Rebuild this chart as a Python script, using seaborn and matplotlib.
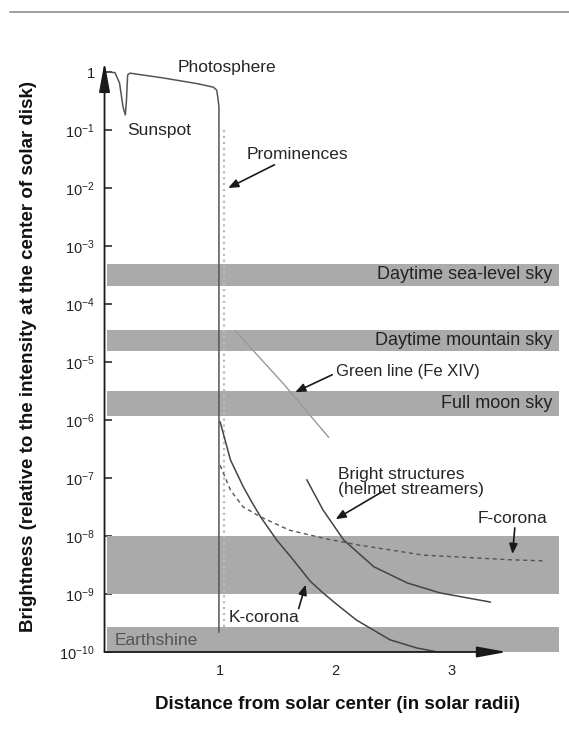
"""
brightness of the solar corona vs. distance from sun center
"""
import matplotlib
matplotlib.use('Agg')
import matplotlib.pyplot as plt
import seaborn as sns
from matplotlib.lines import Line2D

# all brightness values are log10 of the ratio to disk center intensity
photo_x = [0.02, 0.09, 0.13, 0.16, 0.18, 0.19, 0.2, 0.22, 0.5, 0.8, 0.94, 0.97, 0.98, 0.99, 0.99]
photo_log = [0.0, -0.01, -0.19, -0.6, -0.74, -0.48, -0.05, -0.02, -0.1, -0.2, -0.26, -0.31, -0.43, -0.6, -9.66]

prom_x = [1.03, 1.03]
prom_log = [-1.0, -9.6]

green_x = [1.13, 1.55, 1.94]
green_log = [-4.46, -5.38, -6.3]

k_x = [1.0, 1.09, 1.2, 1.27, 1.35, 1.49, 1.62, 1.78, 1.89, 2.01, 2.18, 2.47, 2.7, 2.88]
k_log = [-6.03, -6.69, -7.15, -7.4, -7.67, -8.07, -8.38, -8.78, -8.98, -9.18, -9.45, -9.79, -9.93, -10.0]

f_x = [1.0, 1.09, 1.2, 1.35, 1.6, 1.92, 2.18, 2.76, 3.51, 3.82]
f_log = [-6.78, -7.21, -7.5, -7.67, -7.9, -8.05, -8.15, -8.33, -8.41, -8.43]

helmet_x = [1.75, 1.89, 2.07, 2.33, 2.62, 2.9, 3.34]
helmet_log = [-7.03, -7.55, -8.07, -8.53, -8.81, -8.98, -9.14]

band_names = ['Daytime sea-level sky', 'Daytime mountain sky', 'Full moon sky', '', 'Earthshine']
band_low = [-3.69, -4.81, -5.93, -9.0, -10.0]
band_high = [-3.31, -4.45, -5.5, -8.0, -9.57]

ytick_exp = list(range(0, -11, -1))
ytick_labels = ['1'] + [f'10$^{{{e}}}$' for e in ytick_exp[1:]]
xtick_vals = [1, 2, 3]


def p(v):
    return [10.0 ** e for e in v]


sns.set_theme(style='white')
plt.rcParams['font.family'] = ['Liberation Sans', 'DejaVu Sans']
plt.rcParams['mathtext.fontset'] = 'custom'
plt.rcParams['mathtext.rm'] = 'Liberation Sans'
plt.rcParams['mathtext.it'] = 'Liberation Sans:italic'
plt.rcParams['mathtext.bf'] = 'Liberation Sans:bold'

fig = plt.figure(figsize=(5.69, 7.43), dpi=100)
ax = fig.add_axes([0.1837, 0.1225, 0.8023, 0.7962])
ax.set_yscale('log')
ax.set_xlim(0, 3.95)
ax.set_ylim(1e-10, 10 ** 0.2)
for s in ax.spines.values():
    s.set_visible(False)

# sky brightness bands
for name, lo, hi in zip(band_names, band_low, band_high):
    ax.fill_between([0.02, 3.93], 10 ** lo, 10 ** hi, color='#aaaaaa', lw=0, zorder=1)
    if name and name != 'Earthshine':
        ax.text(3.875, 10 ** ((lo + hi) / 2), name, ha='right', va='center',
                fontsize=13, color='#222222', zorder=3)
ax.text(0.09, 10 ** -9.8, 'Earthshine', ha='left', va='center', fontsize=12.5, color='#555555', zorder=3)

kw = dict(ax=ax, sort=False, estimator=None, legend=False)
sns.lineplot(x=photo_x, y=p(photo_log), color='#555555', lw=1.1, **kw)
sns.lineplot(x=prom_x, y=p(prom_log), color='#bbbbbb', lw=1.6, linestyle=':', **kw)
sns.lineplot(x=green_x, y=p(green_log), color='#999999', lw=1.0, **kw)
sns.lineplot(x=k_x, y=p(k_log), color='#444444', lw=1.1, **kw)
sns.lineplot(x=f_x, y=p(f_log), color='#555555', lw=1.0, linestyle=(0, (3, 2.5)), **kw)
sns.lineplot(x=helmet_x, y=p(helmet_log), color='#444444', lw=1.1, **kw)

# axis arrows
big = dict(arrowstyle='-|>,head_length=1.8,head_width=0.33', color='k', lw=1.3,
           mutation_scale=10, shrinkA=0, shrinkB=0)
ax.annotate('', xy=(0, 10 ** 0.17), xytext=(0, 1e-10), arrowprops=big, annotation_clip=False)
ax.annotate('', xy=(3.48, 1e-10), xytext=(0, 1e-10), arrowprops=big, annotation_clip=False)

small = dict(arrowstyle='-|>,head_length=0.6,head_width=0.25', color='k', lw=1.2,
             mutation_scale=10, shrinkA=0, shrinkB=0)
ax.text(0.63, 10 ** 0.07, 'Photosphere', fontsize=12.5, va='center', ha='left')
ax.text(0.2, 10 ** -1.0, 'Sunspot', fontsize=12.5, va='center', ha='left')
ax.text(1.23, 10 ** -1.43, 'Prominences', fontsize=12.5, va='center', ha='left')
ax.annotate('', xy=(1.07, 10 ** -2.0), xytext=(1.47, 10 ** -1.6), arrowprops=small)
ax.text(2.0, 10 ** -5.17, 'Green line (Fe XIV)', fontsize=12, va='center', ha='left')
ax.annotate('', xy=(1.65, 10 ** -5.52), xytext=(1.97, 10 ** -5.22), arrowprops=small)
ax.text(2.02, 10 ** -7.07, 'Bright structures\n(helmet streamers)', fontsize=12.5,
        va='center', ha='left', linespacing=0.95)
ax.annotate('', xy=(2.0, 10 ** -7.71), xytext=(2.4, 10 ** -7.24), arrowprops=small)
ax.text(3.23, 10 ** -7.7, 'F-corona', fontsize=12.5, va='center', ha='left')
ax.annotate('', xy=(3.53, 10 ** -8.31), xytext=(3.55, 10 ** -7.86), arrowprops=small)
ax.text(1.07, 10 ** -9.4, 'K-corona', fontsize=12.5, va='center', ha='left')
ax.annotate('', xy=(1.74, 10 ** -8.84), xytext=(1.68, 10 ** -9.25), arrowprops=small)

ax.set_yticks(p(ytick_exp))
ax.set_yticklabels(ytick_labels)
ax.minorticks_off()
ax.set_xticks(xtick_vals)
ax.set_xticklabels([str(v) for v in xtick_vals])
ax.tick_params(axis='both', which='major', direction='in', length=5, width=1.1,
               color='k', left=True, bottom=True, labelsize=10.5, labelcolor='#222222')
ax.tick_params(axis='y', pad=7)
ax.tick_params(axis='x', pad=9)

ax.set_xlabel('Distance from solar center (in solar radii)', fontsize=13.5, fontweight='bold', color='#111111')
ax.xaxis.set_label_coords(0.511, -0.074)
ax.set_ylabel('Brightness (relative to the intensity at the center of solar disk)', fontsize=13.5,
              fontweight='bold', color='#111111')
ax.yaxis.set_label_coords(-0.148, 0.5)

fig.add_artist(Line2D([10 / 569, 1.0], [1 - 12 / 743] * 2, color='#999999', lw=1.3))

fig.savefig('out.png', dpi=100)
